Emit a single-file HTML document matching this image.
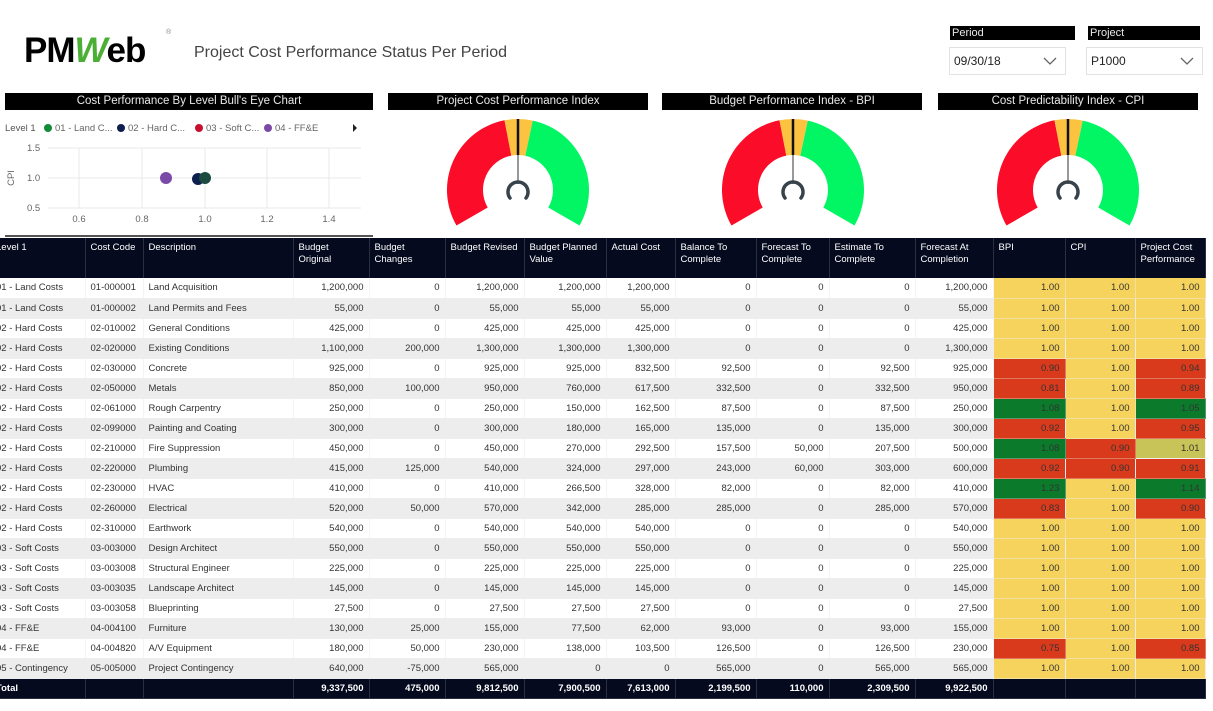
<!DOCTYPE html>
<html><head><meta charset="utf-8">
<style>
*{margin:0;padding:0;box-sizing:border-box}
body{width:1213px;height:711px;background:#fff;font-family:"Liberation Sans",sans-serif;position:relative;overflow:hidden;color:#333}
.abs{position:absolute}
.bar{position:absolute;background:#000;color:#e8e8e8;font-size:11.5px;text-align:center;line-height:17px;height:17px}
table{position:absolute;left:0;top:238px;border-collapse:collapse;table-layout:fixed;font-size:9.5px}
td,th{overflow:hidden;white-space:nowrap;padding:0 5px}
th{background:#050a1e;color:#fff;font-weight:normal;text-align:left;vertical-align:top;height:40px;padding-top:4px;white-space:normal;line-height:12px;border-right:1px solid #2a2f40}
td{height:20px;text-align:right;border-right:1px solid #f4f4f4;border-bottom:1px solid #eeeeee}
td.l{text-align:left}
tr.g td{background:#ededed;border-right-color:#ededed}
td.y{background:#f6d35c!important;border-color:#f2e0a0}
td.r{background:#d93a1c!important;border-color:#e07a60}
td.gr{background:#0b7a2a!important;border-color:#5a9a6a}
td.o{background:#c9c457!important}
tr.t td{background:#050a1e;color:#fff;font-weight:bold;border-color:#2a2f40;height:20px}
.lv{position:relative;left:-9px}
.chev{position:absolute;right:8px;top:9px}
</style></head><body>
<div class="abs" style="left:24px;top:31px;font-size:35px;font-weight:bold;color:#000;letter-spacing:-1px">PM<span style="color:#4caf35;font-style:italic">W</span>eb</div>
<div class="abs" style="left:166px;top:29px;font-size:7px;color:#888">®</div>
<div class="abs" style="left:194px;top:44px;font-size:16px;color:#444">Project Cost Performance Status Per Period</div>

<div class="bar" style="left:950px;top:26px;width:125px;height:14px;line-height:14px;text-align:left;padding-left:2px;font-size:11px">Period</div>
<div class="abs" style="left:949px;top:47px;width:117px;height:28px;border:1px solid #e2e2e2;font-size:12px;line-height:26px;padding-left:4px;color:#222">09/30/18<svg class="chev" width="14" height="8"><path d="M1 1 L7 7 L13 1" fill="none" stroke="#666" stroke-width="1.3"/></svg></div>
<div class="bar" style="left:1088px;top:26px;width:112px;height:14px;line-height:14px;text-align:left;padding-left:2px;font-size:11px">Project</div>
<div class="abs" style="left:1086px;top:47px;width:117px;height:28px;border:1px solid #e2e2e2;font-size:12px;line-height:26px;padding-left:4px;color:#222">P1000<svg class="chev" width="14" height="8"><path d="M1 1 L7 7 L13 1" fill="none" stroke="#666" stroke-width="1.3"/></svg></div>

<div class="bar" style="left:5px;top:93px;width:368px">Cost Performance By Level Bull's Eye Chart</div>
<div class="bar" style="left:388px;top:93px;width:260px">Project Cost Performance Index</div>
<div class="bar" style="left:662px;top:93px;width:260px">Budget Performance Index - BPI</div>
<div class="bar" style="left:938px;top:93px;width:260px">Cost Predictability Index - CPI</div>

<svg class="abs" style="left:0;top:0" width="1213" height="240">
<g font-size="9.5" fill="#666" font-family="Liberation Sans">
<text x="5" y="131" fill="#555">Level 1</text>
<circle cx="48" cy="128" r="4" fill="#118a3a"/><text x="55" y="131">01 - Land C...</text>
<circle cx="121" cy="128" r="4" fill="#0d1f4f"/><text x="128" y="131">02 - Hard C...</text>
<circle cx="199" cy="128" r="4" fill="#c8102e"/><text x="206" y="131">03 - Soft C...</text>
<circle cx="268" cy="128" r="4" fill="#7b4aa8"/><text x="275" y="131">04 - FF&amp;E</text>
<path d="M353 124 L357 128 L353 132Z" fill="#222"/>
<g stroke="#e8e8e8" stroke-width="1">
<line x1="48" y1="148" x2="361" y2="148"/><line x1="48" y1="178" x2="361" y2="178"/><line x1="48" y1="208" x2="361" y2="208"/>
<line x1="79" y1="148" x2="79" y2="208"/><line x1="142" y1="148" x2="142" y2="208"/><line x1="205" y1="148" x2="205" y2="208"/><line x1="267" y1="148" x2="267" y2="208"/><line x1="329" y1="148" x2="329" y2="208"/>
</g>
<text x="27" y="151">1.5</text><text x="27" y="181">1.0</text><text x="27" y="211">0.5</text>
<text x="14" y="178" transform="rotate(-90 14 178)" text-anchor="middle">CPI</text>
<text x="79" y="222" text-anchor="middle">0.6</text><text x="142" y="222" text-anchor="middle">0.8</text><text x="205" y="222" text-anchor="middle">1.0</text><text x="267" y="222" text-anchor="middle">1.2</text><text x="329" y="222" text-anchor="middle">1.4</text>
</g>
<circle cx="166" cy="178" r="6" fill="#7b4aa8"/>
<circle cx="198" cy="179" r="6" fill="#0d1f4f"/>
<circle cx="205" cy="178" r="6" fill="#1a4a40"/>
<line x1="5" y1="236" x2="373" y2="236" stroke="#555" stroke-width="2"/>
<defs><g id="gauge">
<path d="M-61.5 35.5 A71 71 0 0 1 -13.5 -69.7 L-6.7 -34.4 A35 35 0 0 0 -30.3 17.5Z" fill="#fb0c28"/>
<path d="M-13.5 -69.7 A71 71 0 0 1 14.8 -69.4 L7.3 -34.2 A35 35 0 0 0 -6.7 -34.4Z" fill="#fcc340"/>
<path d="M14.8 -69.4 A71 71 0 0 1 61.5 35.5 L30.3 17.5 A35 35 0 0 0 7.3 -34.2Z" fill="#02f562"/>
<line x1="0" y1="-71" x2="0" y2="-35" stroke="#111" stroke-width="2.5"/>
<line x1="0" y1="-35" x2="0" y2="-6" stroke="#999" stroke-width="2"/>
<path d="M-8 8 A10 10 0 1 1 8 8" fill="none" stroke="#37424a" stroke-width="3.5" stroke-linecap="round"/>
</g></defs>
<use href="#gauge" x="518" y="190"/>
<use href="#gauge" x="793" y="190"/>
<use href="#gauge" x="1068" y="190"/>
</svg>

<table>
<colgroup><col style="width:85px"><col style="width:58px"><col style="width:150px"><col style="width:76px"><col style="width:76px"><col style="width:79px"><col style="width:82px"><col style="width:69px"><col style="width:81px"><col style="width:73px"><col style="width:86px"><col style="width:78px"><col style="width:72px"><col style="width:70px"><col style="width:70px"></colgroup>
<tr><th><span class="lv">Level 1</span></th><th>Cost Code</th><th>Description</th><th>Budget Original</th><th>Budget Changes</th><th>Budget Revised</th><th>Budget Planned Value</th><th>Actual Cost</th><th>Balance To Complete</th><th>Forecast To Complete</th><th>Estimate To Complete</th><th>Forecast At Completion</th><th>BPI</th><th>CPI</th><th>Project Cost Performance</th></tr>
<tr><td class="l"><span class="lv">01 - Land Costs</span></td><td class="l">01-000001</td><td class="l">Land Acquisition</td><td>1,200,000</td><td>0</td><td>1,200,000</td><td>1,200,000</td><td>1,200,000</td><td>0</td><td>0</td><td>0</td><td>1,200,000</td><td class="y">1.00</td><td class="y">1.00</td><td class="y">1.00</td></tr>
<tr class="g"><td class="l"><span class="lv">01 - Land Costs</span></td><td class="l">01-000002</td><td class="l">Land Permits and Fees</td><td>55,000</td><td>0</td><td>55,000</td><td>55,000</td><td>55,000</td><td>0</td><td>0</td><td>0</td><td>55,000</td><td class="y">1.00</td><td class="y">1.00</td><td class="y">1.00</td></tr>
<tr><td class="l"><span class="lv">02 - Hard Costs</span></td><td class="l">02-010002</td><td class="l">General Conditions</td><td>425,000</td><td>0</td><td>425,000</td><td>425,000</td><td>425,000</td><td>0</td><td>0</td><td>0</td><td>425,000</td><td class="y">1.00</td><td class="y">1.00</td><td class="y">1.00</td></tr>
<tr class="g"><td class="l"><span class="lv">02 - Hard Costs</span></td><td class="l">02-020000</td><td class="l">Existing Conditions</td><td>1,100,000</td><td>200,000</td><td>1,300,000</td><td>1,300,000</td><td>1,300,000</td><td>0</td><td>0</td><td>0</td><td>1,300,000</td><td class="y">1.00</td><td class="y">1.00</td><td class="y">1.00</td></tr>
<tr><td class="l"><span class="lv">02 - Hard Costs</span></td><td class="l">02-030000</td><td class="l">Concrete</td><td>925,000</td><td>0</td><td>925,000</td><td>925,000</td><td>832,500</td><td>92,500</td><td>0</td><td>92,500</td><td>925,000</td><td class="r">0.90</td><td class="y">1.00</td><td class="r">0.94</td></tr>
<tr class="g"><td class="l"><span class="lv">02 - Hard Costs</span></td><td class="l">02-050000</td><td class="l">Metals</td><td>850,000</td><td>100,000</td><td>950,000</td><td>760,000</td><td>617,500</td><td>332,500</td><td>0</td><td>332,500</td><td>950,000</td><td class="r">0.81</td><td class="y">1.00</td><td class="r">0.89</td></tr>
<tr><td class="l"><span class="lv">02 - Hard Costs</span></td><td class="l">02-061000</td><td class="l">Rough Carpentry</td><td>250,000</td><td>0</td><td>250,000</td><td>150,000</td><td>162,500</td><td>87,500</td><td>0</td><td>87,500</td><td>250,000</td><td class="gr">1.08</td><td class="y">1.00</td><td class="gr">1.05</td></tr>
<tr class="g"><td class="l"><span class="lv">02 - Hard Costs</span></td><td class="l">02-099000</td><td class="l">Painting and Coating</td><td>300,000</td><td>0</td><td>300,000</td><td>180,000</td><td>165,000</td><td>135,000</td><td>0</td><td>135,000</td><td>300,000</td><td class="r">0.92</td><td class="y">1.00</td><td class="r">0.95</td></tr>
<tr><td class="l"><span class="lv">02 - Hard Costs</span></td><td class="l">02-210000</td><td class="l">Fire Suppression</td><td>450,000</td><td>0</td><td>450,000</td><td>270,000</td><td>292,500</td><td>157,500</td><td>50,000</td><td>207,500</td><td>500,000</td><td class="gr">1.08</td><td class="r">0.90</td><td class="o">1.01</td></tr>
<tr class="g"><td class="l"><span class="lv">02 - Hard Costs</span></td><td class="l">02-220000</td><td class="l">Plumbing</td><td>415,000</td><td>125,000</td><td>540,000</td><td>324,000</td><td>297,000</td><td>243,000</td><td>60,000</td><td>303,000</td><td>600,000</td><td class="r">0.92</td><td class="r">0.90</td><td class="r">0.91</td></tr>
<tr><td class="l"><span class="lv">02 - Hard Costs</span></td><td class="l">02-230000</td><td class="l">HVAC</td><td>410,000</td><td>0</td><td>410,000</td><td>266,500</td><td>328,000</td><td>82,000</td><td>0</td><td>82,000</td><td>410,000</td><td class="gr">1.23</td><td class="y">1.00</td><td class="gr">1.14</td></tr>
<tr class="g"><td class="l"><span class="lv">02 - Hard Costs</span></td><td class="l">02-260000</td><td class="l">Electrical</td><td>520,000</td><td>50,000</td><td>570,000</td><td>342,000</td><td>285,000</td><td>285,000</td><td>0</td><td>285,000</td><td>570,000</td><td class="r">0.83</td><td class="y">1.00</td><td class="r">0.90</td></tr>
<tr><td class="l"><span class="lv">02 - Hard Costs</span></td><td class="l">02-310000</td><td class="l">Earthwork</td><td>540,000</td><td>0</td><td>540,000</td><td>540,000</td><td>540,000</td><td>0</td><td>0</td><td>0</td><td>540,000</td><td class="y">1.00</td><td class="y">1.00</td><td class="y">1.00</td></tr>
<tr class="g"><td class="l"><span class="lv">03 - Soft Costs</span></td><td class="l">03-003000</td><td class="l">Design Architect</td><td>550,000</td><td>0</td><td>550,000</td><td>550,000</td><td>550,000</td><td>0</td><td>0</td><td>0</td><td>550,000</td><td class="y">1.00</td><td class="y">1.00</td><td class="y">1.00</td></tr>
<tr><td class="l"><span class="lv">03 - Soft Costs</span></td><td class="l">03-003008</td><td class="l">Structural Engineer</td><td>225,000</td><td>0</td><td>225,000</td><td>225,000</td><td>225,000</td><td>0</td><td>0</td><td>0</td><td>225,000</td><td class="y">1.00</td><td class="y">1.00</td><td class="y">1.00</td></tr>
<tr class="g"><td class="l"><span class="lv">03 - Soft Costs</span></td><td class="l">03-003035</td><td class="l">Landscape Architect</td><td>145,000</td><td>0</td><td>145,000</td><td>145,000</td><td>145,000</td><td>0</td><td>0</td><td>0</td><td>145,000</td><td class="y">1.00</td><td class="y">1.00</td><td class="y">1.00</td></tr>
<tr><td class="l"><span class="lv">03 - Soft Costs</span></td><td class="l">03-003058</td><td class="l">Blueprinting</td><td>27,500</td><td>0</td><td>27,500</td><td>27,500</td><td>27,500</td><td>0</td><td>0</td><td>0</td><td>27,500</td><td class="y">1.00</td><td class="y">1.00</td><td class="y">1.00</td></tr>
<tr class="g"><td class="l"><span class="lv">04 - FF&amp;E</span></td><td class="l">04-004100</td><td class="l">Furniture</td><td>130,000</td><td>25,000</td><td>155,000</td><td>77,500</td><td>62,000</td><td>93,000</td><td>0</td><td>93,000</td><td>155,000</td><td class="y">1.00</td><td class="y">1.00</td><td class="y">1.00</td></tr>
<tr><td class="l"><span class="lv">04 - FF&amp;E</span></td><td class="l">04-004820</td><td class="l">A/V Equipment</td><td>180,000</td><td>50,000</td><td>230,000</td><td>138,000</td><td>103,500</td><td>126,500</td><td>0</td><td>126,500</td><td>230,000</td><td class="r">0.75</td><td class="y">1.00</td><td class="r">0.85</td></tr>
<tr class="g"><td class="l"><span class="lv">05 - Contingency</span></td><td class="l">05-005000</td><td class="l">Project Contingency</td><td>640,000</td><td>-75,000</td><td>565,000</td><td>0</td><td>0</td><td>565,000</td><td>0</td><td>565,000</td><td>565,000</td><td class="y">1.00</td><td class="y">1.00</td><td class="y">1.00</td></tr>
<tr class="t"><td class="l"><span class="lv">Total</span></td><td></td><td></td><td>9,337,500</td><td>475,000</td><td>9,812,500</td><td>7,900,500</td><td>7,613,000</td><td>2,199,500</td><td>110,000</td><td>2,309,500</td><td>9,922,500</td><td></td><td></td><td></td></tr>
</table>
</body></html>
